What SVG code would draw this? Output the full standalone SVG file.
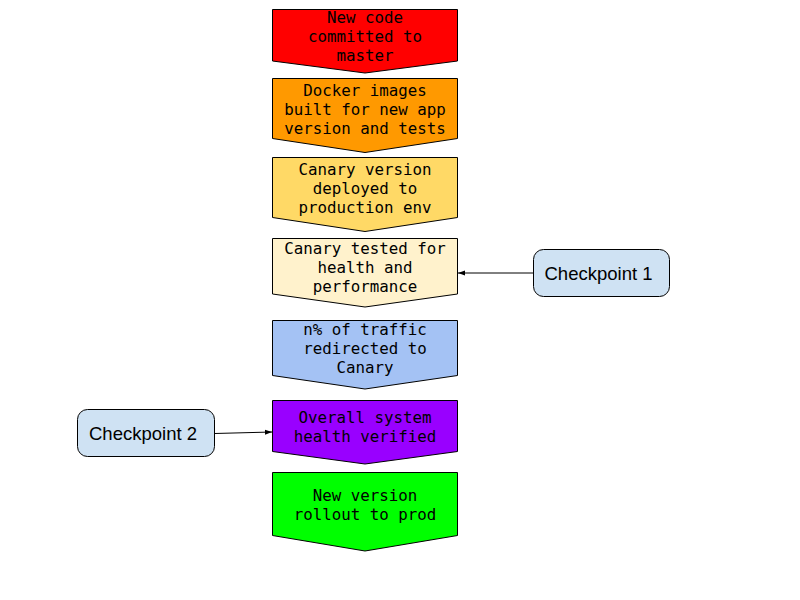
<svg xmlns="http://www.w3.org/2000/svg" width="800" height="600" viewBox="0 0 800 600">
<defs>
<style>
.s{stroke:#000;stroke-width:1;stroke-linejoin:miter}
.t{font-family:"DejaVu Sans Mono","Liberation Mono",monospace;font-size:15.8px;fill:#000;text-anchor:middle}
.c{font-family:"Liberation Sans",Arial,sans-serif;font-size:18.5px;fill:#000;text-anchor:middle}
.cp{fill:#cfe2f3;stroke:#000;stroke-width:1}
.e{stroke:#000;stroke-width:1;fill:none}
</style>
<marker id="ah" markerWidth="8" markerHeight="6" refX="7" refY="3" orient="auto" markerUnits="userSpaceOnUse">
<path d="M0,0.5 L7,3 L0,5.5 Z" fill="#000"/>
</marker>
</defs>
<rect width="800" height="600" fill="#fff"/>
<g id="n1"><path class="s" fill="#ff0000" d="M272.5,9.5 H457.5 V61 L365,73 L272.5,61 Z"/>
<text class="t"><tspan x="365" y="22.5">New code</tspan><tspan x="365" y="41.5">committed to</tspan><tspan x="365" y="60.5">master</tspan></text></g>
<g id="n2"><path class="s" fill="#ff9900" d="M272.5,78.5 H457.5 V138.5 L365,152.5 L272.5,138.5 Z"/>
<text class="t"><tspan x="365" y="95.5">Docker images</tspan><tspan x="365" y="114.5">built for new app</tspan><tspan x="365" y="133.5">version and tests</tspan></text></g>
<g id="n3"><path class="s" fill="#ffd966" d="M272.5,157.5 H457.5 V217.5 L365,231.5 L272.5,217.5 Z"/>
<text class="t"><tspan x="365" y="174.5">Canary version</tspan><tspan x="365" y="193.5">deployed to</tspan><tspan x="365" y="212.5">production env</tspan></text></g>
<g id="n4"><path class="s" fill="#fff2cc" d="M272.5,238.5 H457.5 V294 L365,307 L272.5,294 Z"/>
<text class="t"><tspan x="365" y="253.5">Canary tested for</tspan><tspan x="365" y="272.5">health and</tspan><tspan x="365" y="291.5">performance</tspan></text></g>
<g id="n5"><path class="s" fill="#a4c2f4" d="M272.5,320.5 H457.5 V375.5 L365,389 L272.5,375.5 Z"/>
<text class="t"><tspan x="365" y="334.5">n% of traffic</tspan><tspan x="365" y="353.5">redirected to</tspan><tspan x="365" y="372.5">Canary</tspan></text></g>
<g id="n6"><path class="s" fill="#9900ff" d="M272.5,400.5 H457.5 V451.5 L365,464 L272.5,451.5 Z"/>
<text class="t"><tspan x="365" y="422.5">Overall system</tspan><tspan x="365" y="441.5">health verified</tspan></text></g>
<g id="n7"><path class="s" fill="#00ff00" d="M272.5,472.5 H457.5 V535.5 L365,551 L272.5,535.5 Z"/>
<text class="t"><tspan x="365" y="500.5">New version</tspan><tspan x="365" y="519.5">rollout to prod</tspan></text></g>
<g id="cp1"><rect class="cp" x="533.5" y="249.5" width="136" height="47" rx="10"/>
<text class="c" x="598.5" y="280">Checkpoint 1</text></g>
<g id="cp2"><rect class="cp" x="77.5" y="409.5" width="137" height="47" rx="10"/>
<text class="c" x="143" y="440">Checkpoint 2</text></g>
<g id="edges">
<line class="e" x1="533.5" y1="273" x2="458" y2="273" marker-end="url(#ah)"/>
<line class="e" x1="214.5" y1="433.5" x2="272" y2="432" marker-end="url(#ah)"/>
</g>
</svg>
